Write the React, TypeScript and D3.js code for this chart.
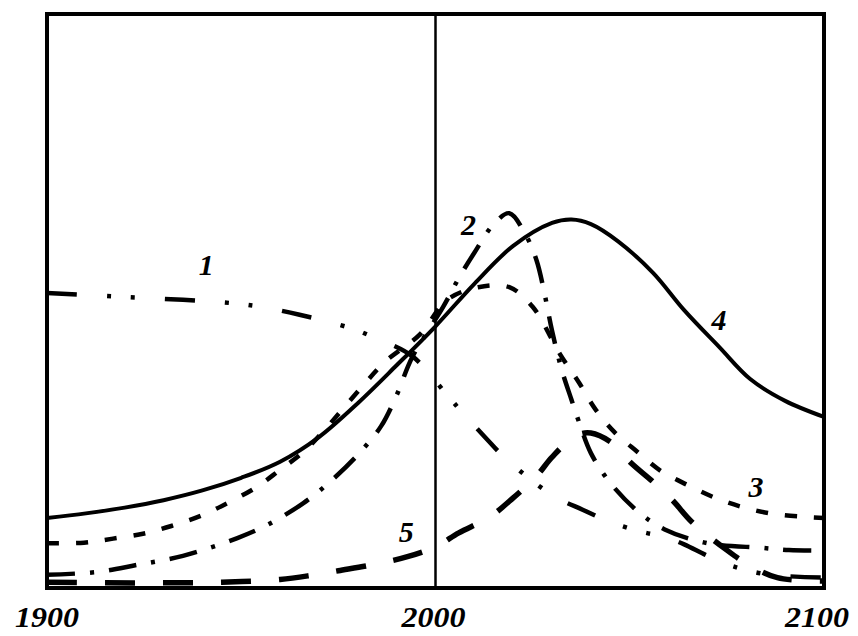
import React from "react";
import * as d3 from "d3";

// Curve 1 (dash-dot-dot)
const years1 = [1900, 1917, 1935, 1948, 1955, 1965, 1978, 1984, 1994, 2003, 2007, 2013, 2018, 2030, 2038, 2045, 2053, 2059, 2064, 2070, 2076, 2085, 2100];
const values1 = [51.4, 50.8, 50.2, 49.6, 49.0, 47.6, 45.3, 43.7, 40.4, 33.6, 30.5, 26.1, 22.6, 16.2, 13.6, 11.5, 9.8, 8.9, 7.6, 5.6, 3.9, 2.4, 1.8];

// Curve 2 (dash-dot)
const years2 = [1900, 1913, 1923, 1935, 1949, 1957, 1966, 1973, 1980, 1986, 1990, 1994, 2002, 2006, 2010, 2015, 2019, 2023, 2026, 2028, 2030, 2032.5, 2035, 2037, 2040, 2045, 2052, 2059, 2070, 2084, 2091, 2100];
const values2 = [2.3, 2.8, 4.0, 5.6, 8.7, 11.1, 14.8, 18.6, 23.2, 28.2, 33.6, 40.2, 49.0, 54.0, 58.4, 63.4, 65.3, 61.8, 57.1, 51.5, 44.8, 38.0, 32.8, 28.8, 23.5, 18.3, 13.4, 10.2, 7.8, 7.0, 6.6, 6.5];

// Curve 3 (short dashes)
const years3 = [1900, 1909.5, 1917, 1925, 1932, 1940, 1947, 1954, 1960, 1966, 1971, 1981, 1987, 1996, 2003, 2011, 2019, 2025, 2032, 2037, 2041, 2046, 2052, 2058, 2065, 2072, 2079, 2087, 2095, 2100];
const values3 = [7.8, 7.9, 8.6, 9.5, 10.8, 12.7, 15.0, 17.6, 20.6, 23.7, 27.2, 35.0, 39.4, 44.2, 50.2, 52.4, 52.4, 49.0, 40.8, 35.7, 31.3, 27.2, 23.7, 20.4, 17.9, 15.7, 14.1, 12.9, 12.4, 12.2];

// Curve 4 (solid)
const years4 = [1900, 1910, 1920, 1930, 1940, 1950, 1960, 1970, 1980, 1990, 2000, 2010, 2020, 2030, 2035, 2040, 2047, 2056, 2064, 2073, 2081, 2090, 2100];
const values4 = [12.2, 13.0, 14.0, 15.3, 17.0, 19.2, 22.0, 26.3, 32.2, 38.8, 45.6, 53.0, 59.6, 63.6, 64.2, 63.4, 60.4, 54.9, 48.4, 42.0, 36.4, 32.6, 29.8];

// Curve 5 (long dashes)
const years5 = [1900, 1915, 1930, 1945, 1960, 1968, 1975, 1985, 1993, 2000, 2006, 2014, 2020, 2026, 2030, 2036, 2040, 2046, 2050, 2056, 2061, 2066, 2075, 2080, 2088, 2100];
const values5 = [1.0, 0.9, 0.9, 1.0, 1.5, 2.2, 3.0, 4.2, 5.5, 7.2, 9.6, 12.4, 15.7, 19.5, 22.8, 26.5, 27.0, 25.0, 22.0, 18.5, 15.3, 11.5, 6.6, 4.3, 1.8, 1.2];

const tickYears = [1900, 2000, 2100];
const tickLabels = ["1900", "2000", "2100"];

const curveLabels = ["1", "2", "3", "4", "5"];
const labelYears = [1941, 2008.5, 2082.5, 2073, 1992.5];
const labelValues = [54.5, 61.5, 15.9, 45.0, 8.0];

export default function App() {
  const W = 858, H = 636;
  const left = 47, right = 824, top = 14, bottom = 588;
  const x = d3.scaleLinear().domain([1900, 2100]).range([left, right]);
  const y = d3.scaleLinear().domain([0, 100]).range([bottom, top]);
  const line = d3
    .line<[number, number]>()
    .x((d) => x(d[0]))
    .y((d) => y(d[1]))
    .curve(d3.curveCatmullRom.alpha(0.5));
  const mk = (ys: number[], vs: number[]) => line(ys.map((t, i) => [t, vs[i]] as [number, number])) || "";

  const series = [
    { d: mk(years1, values1), dash: "30 30 4 20 4 30", w: 4.5 },
    { d: mk(years2, values2), dash: "28 15 4 15", w: 4.5 },
    { d: mk(years3, values3), dash: "12 17", w: 4.5 },
    { d: mk(years4, values4), dash: "", w: 4 },
    { d: mk(years5, values5), dash: "30 28", w: 5.5 },
  ];

  const fontFamily = "'Liberation Serif', 'DejaVu Serif', serif";

  return (
    <svg width={W} height={H} style={{ position: "absolute", left: 0, top: 0, background: "#fff" }}>
      <rect x={0} y={0} width={W} height={H} fill="#fff" />
      <defs>
        <clipPath id="plotclip">
          <rect x={left} y={top} width={right - left} height={bottom - top} />
        </clipPath>
      </defs>
      <g clipPath="url(#plotclip)">
        {series.map((s, i) => (
          <path
            key={i}
            d={s.d}
            fill="none"
            stroke="#000"
            strokeWidth={s.w}
            strokeDasharray={s.dash || undefined}
            strokeLinecap="butt"
            strokeLinejoin="round"
          />
        ))}
      </g>
      <line x1={x(2000)} x2={x(2000)} y1={top} y2={bottom} stroke="#000" strokeWidth={2.5} />
      <rect
        x={left}
        y={top}
        width={right - left}
        height={bottom - top}
        fill="none"
        stroke="#000"
        strokeWidth={4}
      />
      {tickYears.map((t, i) => (
        <text
          key={t}
          x={x(t) + (i === 2 ? -7 : i === 1 ? -2 : 0)}
          y={627}
          textAnchor="middle"
          fontFamily={fontFamily}
          fontWeight="bold"
          fontStyle="italic"
          fontSize={30}
          textLength={64}
          lengthAdjust="spacingAndGlyphs"
          fill="#000"
        >
          {tickLabels[i]}
        </text>
      ))}
      {curveLabels.map((lab, i) => (
        <text
          key={lab}
          x={x(labelYears[i])}
          y={y(labelValues[i])}
          textAnchor="middle"
          fontFamily={fontFamily}
          fontWeight="bold"
          fontStyle="italic"
          fontSize={30}
          fill="#000"
        >
          {lab}
        </text>
      ))}
    </svg>
  );
}
